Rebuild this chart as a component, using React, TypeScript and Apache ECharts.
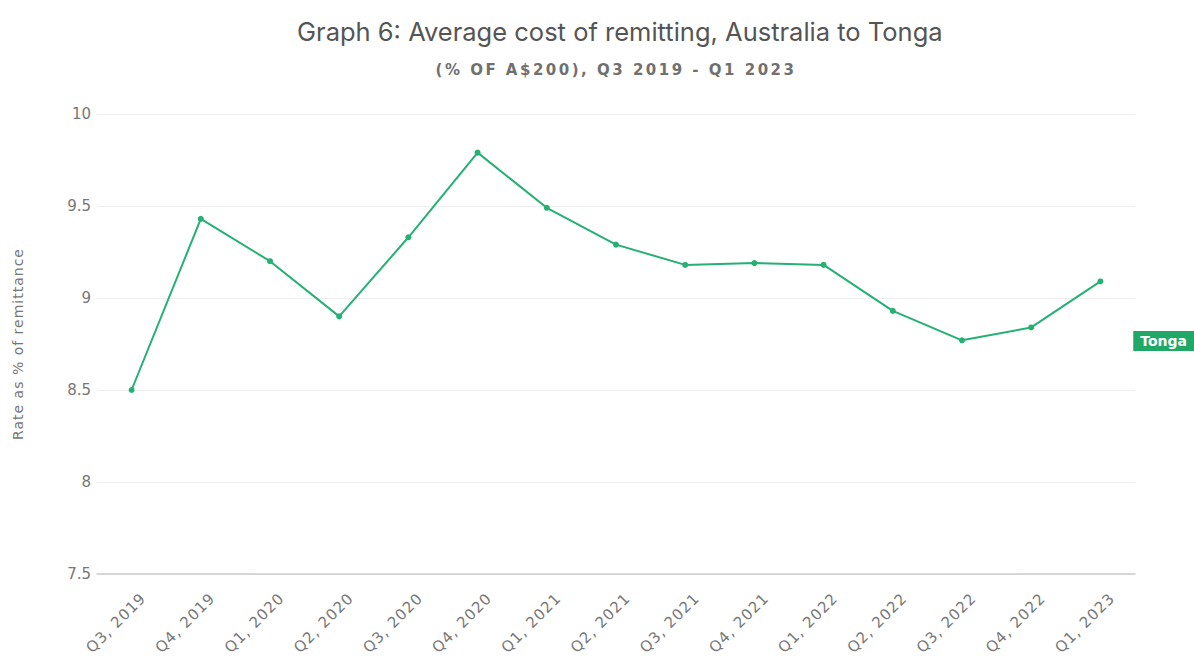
import React, { useEffect, useRef } from "react";
import * as echarts from "echarts";

const categories = [
  "Q3, 2019", "Q4, 2019", "Q1, 2020", "Q2, 2020", "Q3, 2020", "Q4, 2020",
  "Q1, 2021", "Q2, 2021", "Q3, 2021", "Q4, 2021", "Q1, 2022", "Q2, 2022",
  "Q3, 2022", "Q4, 2022", "Q1, 2023",
];
const tongaValues = [8.5, 9.43, 9.2, 8.9, 9.33, 9.79, 9.49, 9.29, 9.18, 9.19, 9.18, 8.93, 8.77, 8.84, 9.09];
const seriesName = "Tonga";
const titleText = "Graph 6: Average cost of remitting, Australia to Tonga";
const subtitleText = "(% OF A$200), Q3 2019 - Q1 2023";
const yAxisName = "Rate as % of remittance";

const GREEN = "#25b074";

export default function App() {
  const ref = useRef<HTMLDivElement>(null);
  useEffect(() => {
    if (!ref.current) return;
    const el = ref.current;
    const chart = echarts.init(el, undefined, { renderer: "svg" });
    const spacing = () => {
      el.querySelectorAll("text").forEach((t) => {
        const s = t.textContent || "";
        if (s === subtitleText) t.setAttribute("letter-spacing", "2.5px");
        else if (categories.includes(s)) t.setAttribute("letter-spacing", "1px");
        else if (s === yAxisName) t.setAttribute("letter-spacing", "1px");
      });
    };
    chart.on("finished", spacing);
    chart.setOption({
      animation: false,
      backgroundColor: "#ffffff",
      title: [
        {
          text: titleText,
          left: 292,
          top: 13,
          textStyle: { fontFamily: "Inter", fontSize: 25.5, fontWeight: "normal", color: "#555555" },
        },
      ],
      grid: { left: 97, right: 59, top: 114, bottom: 86 },
      xAxis: {
        type: "category",
        data: categories,
        boundaryGap: true,
        axisLine: { show: true, lineStyle: { color: "#cccccc", width: 1.5 } },
        axisTick: { show: false },
        axisLabel: {
          rotate: 45,
          interval: 0,
          color: "#777777",
          fontFamily: "DejaVu Sans",
          fontSize: 15,
          margin: 10,
          verticalAlign: "top",
          padding: [9, 0, 0, 0],
        },
      },
      yAxis: {
        type: "value",
        min: 7.5,
        max: 10,
        interval: 0.5,
        name: yAxisName,
        nameLocation: "middle",
        nameGap: 72,
        nameTextStyle: { color: "#777777", fontFamily: "DejaVu Sans", fontSize: 14 },
        axisLine: { show: false },
        axisTick: { show: false },
        axisLabel: {
          color: "#777777",
          fontFamily: "DejaVu Sans",
          fontSize: 15,
          margin: 6,
        },
        splitLine: { lineStyle: { color: "#eeeeee", width: 1 } },
      },
      series: [
        {
          name: seriesName,
          type: "line",
          data: tongaValues,
          symbol: "circle",
          symbolSize: 6,
          lineStyle: { color: GREEN, width: 2 },
          itemStyle: { color: GREEN },
        },
      ],
      graphic: [
        {
          type: "text",
          x: 616,
          y: 62,
          style: {
            text: subtitleText,
            fill: "#707070",
            font: "bold 15px 'DejaVu Sans'",
            textAlign: "center",
            textVerticalAlign: "top",
          },
        },
        {
          type: "text",
          right: 0,
          top: 331,
          style: {
            text: seriesName,
            fill: "#ffffff",
            font: "bold 14px 'DejaVu Sans'",
            backgroundColor: "#1fa866",
            padding: [3, 7, 3, 7],
          },
        },
      ],
    });
    spacing();
    return () => chart.dispose();
  }, []);
  return (
    <div
      ref={ref}
      style={{ position: "fixed", left: 0, top: 0, width: 1194, height: 660 }}
    />
  );
}
